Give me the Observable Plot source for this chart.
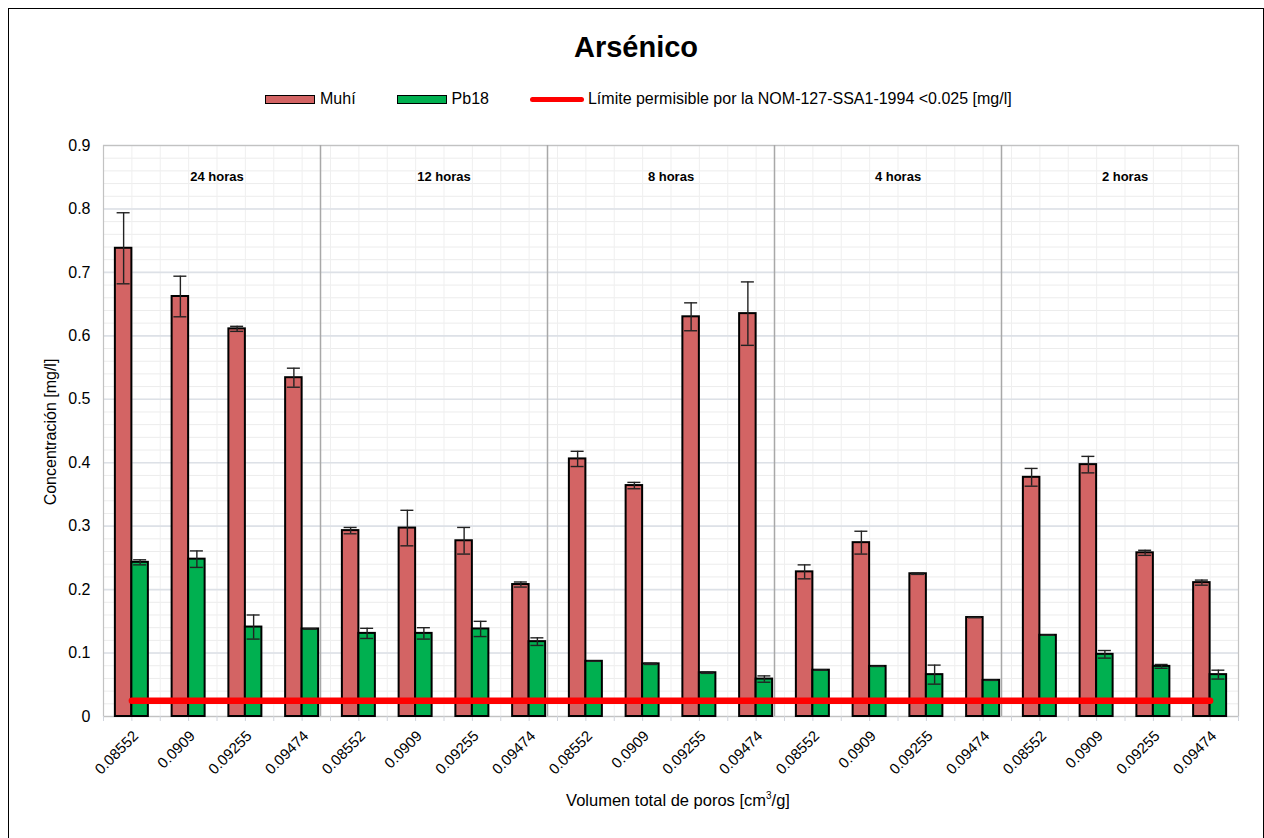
<!DOCTYPE html>
<html><head><meta charset="utf-8">
<script src="https://cdn.jsdelivr.net/npm/d3@7"></script>
<script src="https://cdn.jsdelivr.net/npm/@observablehq/plot@0.6"></script>
<style>
body{margin:0;background:#fff;font-family:"Liberation Sans",Arial,sans-serif;}
#wrap{position:relative;width:1264px;height:838px;overflow:hidden;background:#fff;}
#frame{position:absolute;left:8px;top:8px;width:1256px;height:850px;border:1.5px solid #000;box-sizing:border-box;}
#title{position:absolute;left:8px;width:1256px;top:29px;line-height:36px;text-align:center;font-weight:bold;font-size:29px;color:#000;}
#legend{position:absolute;left:265px;top:89px;height:20px;display:flex;align-items:center;font-size:16px;color:#000;}
.sw{width:50px;height:9px;border:1.5px solid #000;box-sizing:border-box;margin-right:5px;}
.ln{width:54px;height:5px;border-radius:3px;background:#ff0000;margin-right:4px;}
.item{display:flex;align-items:center;margin-right:41px;}
#chart{position:absolute;left:0;top:120px;}
#ylab{position:absolute;left:51px;top:432px;transform:translate(-50%,-50%) rotate(-90deg);font-size:16px;white-space:nowrap;}
#xlab{position:absolute;left:678px;top:800px;transform:translate(-50%,-50%);font-size:16.5px;white-space:nowrap;}
#xlab sup{font-size:10px;}
</style></head>
<body>
<div id="wrap">
  <div id="frame"></div>
  <div id="title">Arsénico</div>
  <div id="legend"></div>
  <div id="chart"></div>
  <div id="ylab">Concentración [mg/l]</div>
  <div id="xlab">Volumen total de poros [cm<sup>3</sup>/g]</div>
</div>
<script>
// ---- data ----
const groups = ["24 horas", "12 horas", "8 horas", "4 horas", "2 horas"];
const volumes = ["0.08552", "0.0909", "0.09255", "0.09474"];
const seriesNames = ["Muhí", "Pb18"];
const limitLabel = "Límite permisible por la NOM-127-SSA1-1994 <0.025 [mg/l]";
const limit = 0.025;
const muhi = [0.738, 0.662, 0.611, 0.534, 0.293, 0.297, 0.277, 0.208, 0.406, 0.364, 0.630, 0.635, 0.228, 0.274, 0.225, 0.156, 0.377, 0.397, 0.258, 0.211];
const muhiErr = [0.056, 0.032, 0.004, 0.015, 0.005, 0.028, 0.021, 0.004, 0.012, 0.005, 0.022, 0.050, 0.011, 0.018, 0.001, 0, 0.014, 0.013, 0.004, 0.004];
const pb18 = [0.243, 0.248, 0.141, 0.138, 0.131, 0.131, 0.138, 0.118, 0.087, 0.083, 0.069, 0.059, 0.073, 0.079, 0.066, 0.057, 0.128, 0.098, 0.079, 0.066];
const pb18Err = [0.004, 0.013, 0.019, 0, 0.008, 0.009, 0.012, 0.006, 0, 0.001, 0.001, 0.005, 0, 0, 0.015, 0, 0, 0.006, 0.003, 0.007];
const yTicks = [0, 0.1, 0.2, 0.3, 0.4, 0.5, 0.6, 0.7, 0.8, 0.9];

// ---- styles ----
const colors = {"Muhí": "#d36464", "Pb18": "#00b050"};
const W = 1264, H = 718, mL = 103, mR = 26, mT = 25, mB = 122;
const bw = (W - mL - mR) / muhi.length;
const barW = 16.5, capHalf = 6.5;

// rows
const ids = muhi.map((_, i) => i);
const rows = ids.map(i => ({id: i, group: groups[Math.floor(i / volumes.length)], vol: volumes[i % volumes.length],
  muhi: muhi[i], muhiErr: muhiErr[i], pb: pb18[i], pbErr: pb18Err[i]}));
const separators = ids.filter(i => i % volumes.length === volumes.length - 1 && i < ids.length - 1);
const minor = d3.range(0, 0.9001, 0.02);

// legend
const leg = document.getElementById("legend");
seriesNames.forEach(n => {
  const it = document.createElement("div"); it.className = "item";
  it.innerHTML = `<div class="sw" style="background:${colors[n]}"></div><span>${n}</span>`;
  leg.appendChild(it);
});
{
  const it = document.createElement("div"); it.className = "item";
  it.innerHTML = `<div class="ln"></div><span>${limitLabel}</span>`;
  leg.appendChild(it);
}

const half = bw / 2;
const chart = Plot.plot({
  width: W, height: H,
  marginLeft: mL, marginRight: mR, marginTop: mT, marginBottom: mB,
  style: {fontFamily: "'Liberation Sans', Arial, sans-serif", background: "transparent", color: "#000"},
  x: {type: "band", domain: ids, padding: 0, round: false, axis: null},
  y: {domain: [0, 0.9], axis: null},
  marks: [
    // grid
    Plot.ruleY(minor, {stroke: "#ececec", strokeWidth: 1}),
    Plot.ruleX(ids, {stroke: "#efefef"}),
    Plot.ruleX(ids, {dx: -half, stroke: "#efefef"}),
    Plot.ruleY(yTicks, {stroke: "#dde1e7", strokeWidth: 1.6}),
    Plot.frame({stroke: "#c2c2c2", strokeWidth: 1.2}),
    // axis ticks below
    Plot.ruleX(ids, {y1: 0, y2: 0, insetBottom: -5, stroke: "#d0d4dc"}),
    Plot.ruleX(ids, {y1: 0, y2: 0, insetBottom: -5, dx: -half, stroke: "#d0d4dc"}),
    Plot.ruleX([ids[ids.length - 1]], {y1: 0, y2: 0, insetBottom: -5, dx: half, stroke: "#d0d4dc"}),
    // axes
    Plot.axisY(yTicks, {tickSize: 0, tickPadding: 13, fontSize: 16, label: null, tickFormat: d => String(d)}),
    Plot.axisX({tickSize: 0, tickRotate: -45, tickPadding: 17, dx: 4, fontSize: 15, label: null, tickFormat: i => volumes[i % volumes.length]}),
    // separators
    Plot.ruleX(separators, {y1: 0, y2: 0.9, dx: half - 10, stroke: "#a8a8a8", strokeWidth: 1.5}),
    // bars
    Plot.barY(rows, {x: "id", y: "muhi", fill: colors["Muhí"], stroke: "#000", strokeWidth: 2,
      insetLeft: half - barW, insetRight: half}),
    Plot.barY(rows, {x: "id", y: "pb", fill: colors["Pb18"], stroke: "#000", strokeWidth: 2,
      insetLeft: half, insetRight: half - barW}),
    // error bars
    Plot.ruleX(rows, {x: "id", y1: d => d.muhi - d.muhiErr, y2: d => d.muhi + d.muhiErr, dx: -barW / 2, stroke: "#222", strokeWidth: 1.4}),
    Plot.tickY(rows, {x: "id", y: d => d.muhi + d.muhiErr, insetLeft: half - barW / 2 - capHalf, insetRight: half + barW / 2 - capHalf, stroke: "#222", strokeWidth: 1.4}),
    Plot.tickY(rows, {x: "id", y: d => d.muhi - d.muhiErr, insetLeft: half - barW / 2 - capHalf, insetRight: half + barW / 2 - capHalf, stroke: "#222", strokeWidth: 1.4}),
    Plot.ruleX(rows, {x: "id", y1: d => d.pb - d.pbErr, y2: d => d.pb + d.pbErr, dx: barW / 2, stroke: "#222", strokeWidth: 1.4}),
    Plot.tickY(rows, {x: "id", y: d => d.pb + d.pbErr, insetLeft: half + barW / 2 - capHalf, insetRight: half - barW / 2 - capHalf, stroke: "#222", strokeWidth: 1.4}),
    Plot.tickY(rows, {x: "id", y: d => d.pb - d.pbErr, insetLeft: half + barW / 2 - capHalf, insetRight: half - barW / 2 - capHalf, stroke: "#222", strokeWidth: 1.4}),
    // limit line
    Plot.lineY(ids, {x: d => d, y: () => limit, stroke: "#ff0000", strokeWidth: 6.5, strokeLinecap: "round"}),
    // group labels
    Plot.text(groups, {x: (d, i) => i * volumes.length + 1, y: () => 0.85, dx: half, text: d => d, fontWeight: "bold", fontSize: 13, fill: "#000"})
  ]
});
document.getElementById("chart").appendChild(chart);
</script>
</body></html>
